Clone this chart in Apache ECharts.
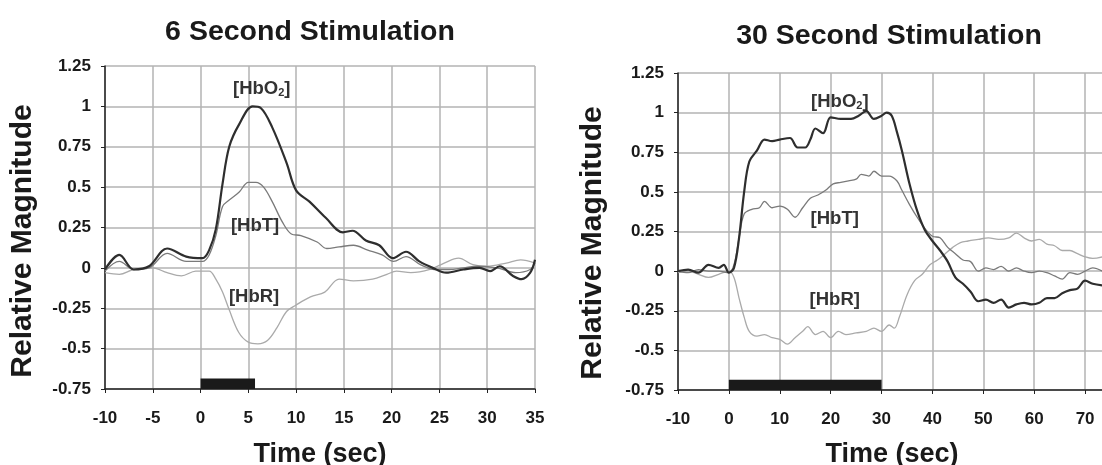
<!DOCTYPE html>
<html><head><meta charset="utf-8">
<script src="https://cdn.jsdelivr.net/npm/echarts@6/dist/echarts.min.js"></script>
<style>html,body{margin:0;padding:0;background:#fff}#c{width:1102px;height:465px}</style>
</head><body><div id="c"></div>
<script>
// ---- 6 second stimulation ----
const hbo2_6 = [[-10,-0.01],[-8.5,0.08],[-7,-0.01],[-5.4,0.01],[-3.5,0.12],[-1.5,0.07],[0.2,0.06],[0.9,0.11],[1.6,0.24],[2.3,0.52],[3.0,0.75],[4.05,0.89],[5.45,1.0],[6.3,0.99],[7.5,0.87],[9.0,0.65],[10,0.48],[11.4,0.41],[13.1,0.31],[14.9,0.22],[15.9,0.23],[17.3,0.17],[18.7,0.14],[20.1,0.06],[21.5,0.10],[22.9,0.04],[24.3,0],[25.7,-0.03],[27.5,-0.01],[29.2,0],[30.3,-0.02],[31.3,0.01],[32.7,-0.05],[33.6,-0.07],[34.5,-0.03],[35,0.05]];
const hbt_6 = [[-10,-0.02],[-8.5,0.04],[-7,-0.01],[-5.4,0],[-3.5,0.09],[-1.5,0.04],[0.2,0.04],[0.9,0.08],[1.6,0.2],[2.3,0.38],[3.0,0.42],[4.05,0.47],[5.0,0.53],[5.8,0.53],[6.6,0.5],[7.5,0.41],[8.6,0.28],[9.5,0.21],[10.5,0.2],[12.2,0.16],[13.2,0.12],[14.5,0.13],[16,0.14],[17.5,0.11],[19,0.08],[20.2,0.04],[21.5,0.07],[23,0.02],[24.5,-0.01],[26,-0.01],[27.5,0],[29,0.01],[31,0],[33,-0.03],[34.5,-0.01],[35,0.03]];
const hbr_6 = [[-10,-0.03],[-8.5,-0.04],[-7,-0.01],[-5,0],[-3.5,-0.03],[-2,-0.05],[-0.5,-0.02],[0.9,-0.02],[1.6,-0.07],[2.3,-0.15],[3.0,-0.26],[4,-0.4],[5,-0.46],[6,-0.47],[7,-0.45],[8,-0.37],[9,-0.27],[10,-0.23],[11.5,-0.18],[13,-0.15],[14.5,-0.07],[16,-0.08],[18,-0.07],[19.5,-0.04],[20.5,-0.02],[22,-0.03],[24,-0.01],[25.5,0.03],[27,0.06],[28.5,0.02],[30,0.01],[32,0.03],[33.5,0.05],[35,0.03]];
const stim_6 = [0, 5.7];
const xTicks_6 = {min:-10, max:35, step:5};

// ---- 30 second stimulation ----
const hbo2_30 = [[-10,0],[-8,0.01],[-6,-0.01],[-4,0.04],[-2,0.02],[-1,0.04],[0,-0.01],[1,0.02],[2,0.21],[3,0.5],[4,0.69],[5.5,0.76],[7,0.83],[8.5,0.82],[10,0.83],[12,0.84],[13.5,0.78],[15,0.78],[16,0.83],[17,0.9],[18.5,0.87],[20,0.97],[22,0.96],[24,0.96],[25.5,0.98],[27,1.01],[28.5,0.96],[30,0.98],[31,1.0],[32,0.98],[33,0.88],[34,0.76],[35.5,0.55],[37,0.38],[38.5,0.26],[40,0.19],[41.5,0.13],[43,0.06],[44.5,-0.04],[46,-0.08],[47.5,-0.13],[49,-0.19],[50.5,-0.18],[52,-0.2],[53.5,-0.18],[55,-0.23],[56.5,-0.21],[58,-0.2],[59.5,-0.21],[61,-0.2],[62.5,-0.17],[64,-0.17],[65.5,-0.14],[67,-0.12],[68.5,-0.11],[70,-0.06],[71.5,-0.08],[73.4,-0.09]];
const hbt_30 = [[-10,0],[-8,-0.01],[-6,0.01],[-4,0],[-2,0],[0,-0.01],[1,0.04],[2,0.21],[3,0.36],[4.5,0.39],[6,0.4],[7,0.44],[8.5,0.4],[10,0.41],[11.5,0.39],[13,0.34],[14.5,0.4],[16,0.46],[17.5,0.48],[19,0.51],[20.5,0.55],[22,0.56],[23.5,0.57],[25,0.58],[26,0.61],[27.5,0.6],[28.5,0.63],[30,0.6],[31.5,0.6],[33,0.57],[34,0.51],[35.5,0.42],[37,0.34],[38.5,0.27],[40,0.22],[41.5,0.21],[43,0.15],[44.5,0.11],[46,0.07],[47.5,0.06],[49,0],[50.5,0.02],[52,0.01],[53.5,0.03],[55,0],[56.5,0.02],[58,0],[59.5,-0.01],[61,0],[62.5,-0.01],[64,-0.03],[65.5,-0.05],[67,-0.01],[68.5,-0.02],[70,0],[71.5,0.02],[73.4,0]];
const hbr_30 = [[-10,-0.01],[-8,0],[-6,-0.02],[-4,-0.04],[-2,-0.02],[0,0],[1,-0.04],[2,-0.17],[3,-0.29],[4,-0.38],[5.5,-0.41],[7,-0.4],[8.5,-0.42],[10,-0.43],[11.5,-0.46],[13,-0.42],[14.5,-0.38],[15.5,-0.35],[17,-0.4],[18.5,-0.38],[20,-0.42],[21.5,-0.38],[23,-0.4],[25,-0.39],[27,-0.38],[28.5,-0.36],[30,-0.38],[31.5,-0.34],[32.5,-0.36],[33.5,-0.29],[35,-0.15],[36.5,-0.06],[38,-0.02],[39.5,0.04],[41,0.07],[42.5,0.11],[44,0.15],[45.5,0.18],[47,0.19],[49,0.2],[51,0.21],[53,0.2],[55,0.21],[56.5,0.24],[58,0.21],[59.5,0.19],[61,0.2],[62.5,0.17],[64,0.16],[65.5,0.13],[67,0.13],[68.5,0.11],[70,0.09],[71.5,0.08],[73.4,0.09]];
const stim_30 = [0, 30];
const xTicks_30 = {min:-10, max:80, step:10};

const yTicks = {min:-0.75, max:1.25, step:0.25};
const titles = ['6 Second Stimulation', '30 Second Stimulation'];
const xName = 'Time (sec)';
const yName = 'Relative Magnitude';
const seriesNames = ['[HbO2]', '[HbT]', '[HbR]'];

const FONT = '"Liberation Sans", Arial, Helvetica, sans-serif';
const INK = '#1a1a1a';
const chart = echarts.init(document.getElementById('c'));

function xAxis(i, t){
  return {gridIndex:i, type:'value', min:t.min, max:t.max, interval:t.step,
    axisLine:{show:true, onZero:false, lineStyle:{color:'#222', width:1.5}},
    axisTick:{show:true, length:4, lineStyle:{color:'#222'}},
    axisLabel:{fontFamily:FONT, fontWeight:'bold', fontSize:17, color:INK, margin:21},
    splitLine:{show:true, lineStyle:{color:'#b3b3b3', width:1.5}}};
}
function yAxis(i){
  return {gridIndex:i, type:'value', min:yTicks.min, max:yTicks.max, interval:yTicks.step,
    axisLine:{show:true, onZero:false, lineStyle:{color:'#222', width:1.5}},
    axisTick:{show:true, length:4, lineStyle:{color:'#222'}},
    axisLabel:{fontFamily:FONT, fontWeight:'bold', fontSize:17, color:INK, margin:14},
    splitLine:{show:true, lineStyle:{color:'#b3b3b3', width:1.5}}};
}
const lineStyles = [
  {color:'#2e2e2e', width:2.2},
  {color:'#7a7a7a', width:1.3},
  {color:'#aaaaaa', width:1.3}
];
const labelRich = {
  b:{fontFamily:FONT, fontSize:18.5, fontWeight:'bold', color:'#333'},
  s:{fontFamily:FONT, fontSize:11, fontWeight:'bold', color:'#333', padding:[9,0,0,0]}
};
function labelPoint(coord, name){
  const txt = name === '[HbO2]' ? '{b|[HbO}{s|2}{b|]}' : '{b|' + name + '}';
  return {symbol:'circle', symbolSize:1, itemStyle:{color:'rgba(0,0,0,0)'},
    label:{show:true, position:'inside', formatter:txt, rich:labelRich},
    data:[{coord:coord}]};
}
function series(i, datasets, labelCoords, stim){
  const out = datasets.map((d, k) => ({
    type:'line', xAxisIndex:i, yAxisIndex:i, data:d, showSymbol:false, smooth:0.35,
    lineStyle:lineStyles[k], itemStyle:{color:lineStyles[k].color}, z:3+(2-k),
    markPoint:labelPoint(labelCoords[k], seriesNames[k]),
    silent:true, animation:false
  }));
  out[0].markArea = {silent:true, itemStyle:{color:'#1a1a1a', opacity:1},
    data:[[{coord:[stim[0], yTicks.min]}, {coord:[stim[1], yTicks.min + 0.065]}]]};
  return out;
}
function txt(x, y, text, size, rot){
  return {type:'text', x:x, y:y, rotation:rot||0, silent:true,
    style:{text:text, fontFamily:FONT, fontWeight:'bold', fontSize:size, fill:INK,
      align:'center', verticalAlign:'middle'}};
}

chart.setOption({
  animation:false,
  backgroundColor:'#ffffff',
  title:[
    {text:titles[0], left:305, top:13, textAlign:'center', textStyle:{fontFamily:FONT, fontWeight:'bold', fontSize:28.5, color:INK}},
    {text:titles[1], left:884, top:17, textAlign:'center', textStyle:{fontFamily:FONT, fontWeight:'bold', fontSize:28.5, color:INK}}
  ],
  graphic:[
    txt(23, 241, yName, 30, Math.PI/2),
    txt(593, 243, yName, 30, Math.PI/2),
    txt(320, 455, xName, 27),
    txt(892, 455, xName, 27)
  ],
  grid:[
    {left:105, width:430, top:66, height:323, outerBoundsMode:'none', containLabel:false},
    {left:678, width:458, top:73, height:317, outerBoundsMode:'none', containLabel:false}
  ],
  xAxis:[xAxis(0, xTicks_6), xAxis(1, xTicks_30)],
  yAxis:[yAxis(0), yAxis(1)],
  series:[
    ...series(0, [hbo2_6, hbt_6, hbr_6], [[6.4,1.11],[5.7,0.26],[5.6,-0.18]], stim_6),
    ...series(1, [hbo2_30, hbt_30, hbr_30], [[21.8,1.07],[20.8,0.33],[20.8,-0.18]], stim_30)
  ]
});
</script>
</body></html>
